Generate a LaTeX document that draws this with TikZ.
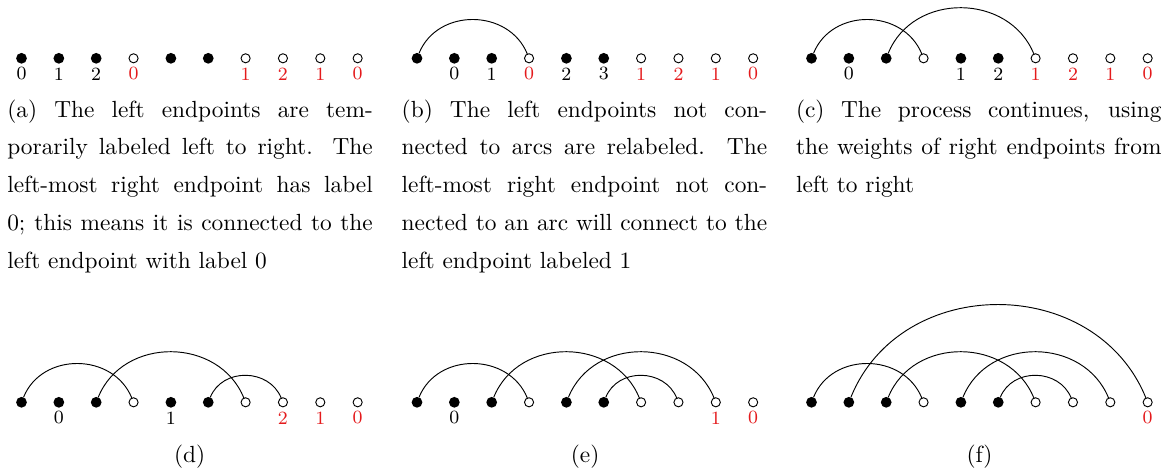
\documentclass[tikz,border=0pt]{standalone}
\usepackage{xcolor}
\definecolor{lblRed}{HTML}{E41A1C}
\usepackage{tikz}
\usetikzlibrary{positioning}

\begin{document}
\begin{tikzpicture}[
    x=0.42817pt, y=-0.42817pt,
    every node/.style={outer sep=0pt, inner sep=0pt},
    fullPt/.style={circle, fill=black, minimum size=4.6pt},
    openPt/.style={circle, draw=black, fill=white, line width=0.4pt, minimum size=3.9pt},
    numLbl/.style={on grid, font=\footnotesize},
    redLbl/.style={numLbl, text=lblRed},
    capText/.style={anchor=base west, text width=156.5pt, align=justify, font=\fontsize{10}{16.14}\selectfont},
    subLbl/.style={anchor=base, font=\normalsize},
    arcLine/.style={draw=black, line width=0.4pt, out=68, in=112, looseness=1.16}
]
    \useasboundingbox (0,0) rectangle (1174,470);

    % Endpoints of the six stages
    \foreach \p/\ox/\oy in {a/21.5/58.3, b/417/58.3, c/811.5/58.3, d/21.5/402.3, e/417/402.3, f/811.5/402.3} {
        \foreach \k/\kind in {1/fullPt, 2/fullPt, 3/fullPt, 4/openPt, 5/fullPt, 6/fullPt, 7/openPt, 8/openPt, 9/openPt, 10/openPt}
            \node (\p\k) [\kind] at ({\ox+37.35*(\k-1)}, \oy) {};
    }

    % Labels of left endpoints
    \foreach \n/\t in {a1/0, a2/1, a3/2, b2/0, b3/1, b5/2, b6/3, c2/0, c5/1, c6/2, d2/0, d5/1, e2/0}
        \node (lbl\n) [numLbl, below=6.7pt of \n] {\t};

    % Weights of right endpoints
    \foreach \n/\t in {a4/0, a7/1, a8/2, a9/1, a10/0, b4/0, b7/1, b8/2, b9/1, b10/0, c7/1, c8/2, c9/1, c10/0, d8/2, d9/1, d10/0, e9/1, e10/0, f10/0}
        \node (lbl\n) [redLbl, below=6.7pt of \n] {\t};

    % Arcs
    \draw [arcLine] (b1) to (b4);
    \draw [arcLine] (c1) to (c4);
    \draw [arcLine] (c3) to (c7);
    \draw [arcLine] (d1) to (d4);
    \draw [arcLine] (d3) to (d7);
    \draw [arcLine] (d6) to (d8);
    \draw [arcLine] (e1) to (e4);
    \draw [arcLine] (e3) to (e7);
    \draw [arcLine] (e6) to (e8);
    \draw [arcLine] (e5) to (e9);
    \draw [arcLine] (f1) to (f4);
    \draw [arcLine] (f2) to (f10);
    \draw [arcLine] (f3) to (f7);
    \draw [arcLine] (f6) to (f8);
    \draw [arcLine] (f5) to (f9);

    % Captions
    \node (capA) [capText] at (7.3, 117.3) {(a) The left endpoints are tem-\linebreak porarily labeled left to right. The\linebreak left-most right endpoint has label\linebreak 0; this means it is connected to the\linebreak left endpoint with label 0};
    \node (capB) [capText] at (401.7, 117.3) {(b) The left endpoints not con-\linebreak nected to arcs are relabeled. The\linebreak left-most right endpoint not con-\linebreak nected to an arc will connect to the\linebreak left endpoint labeled 1};
    \node (capC) [capText] at (796, 117.3) {(c) The process continues, using\linebreak the weights of right endpoints from\linebreak left to right};
    \node (subD) [subLbl] at (189.6, 462.8) {(d)};
    \node (subE) [subLbl] at (585.1, 462.8) {(e)};
    \node (subF) [subLbl] at (979.6, 462.8) {(f)};
\end{tikzpicture}
\end{document}
